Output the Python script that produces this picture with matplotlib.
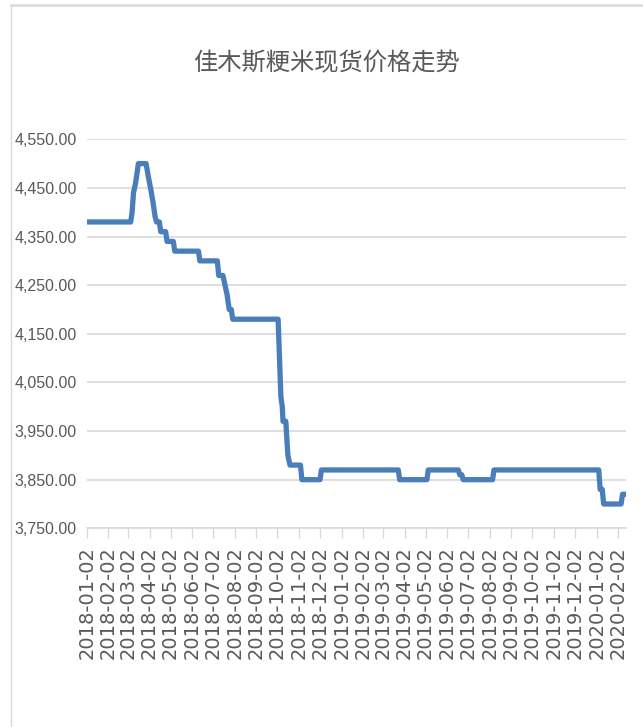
import matplotlib
matplotlib.use("Agg")
import matplotlib.pyplot as plt
from matplotlib.lines import Line2D
from matplotlib.ticker import FuncFormatter, FixedLocator
import pandas as pd

plt.rcParams['font.family'] = ['Noto Sans CJK SC', 'DejaVu Sans']

title = "佳木斯粳米现货价格走势"

dates = ["2018-01-02", "2018-03-06", "2018-03-08", "2018-03-10", "2018-03-13",
         "2018-03-17", "2018-03-28", "2018-03-31", "2018-04-04", "2018-04-07",
         "2018-04-10", "2018-04-12", "2018-04-16", "2018-04-18", "2018-04-25",
         "2018-04-27", "2018-05-06", "2018-05-08", "2018-06-11", "2018-06-13",
         "2018-07-08", "2018-07-10", "2018-07-16", "2018-07-19", "2018-07-22",
         "2018-07-25", "2018-07-28", "2018-07-30", "2018-10-03", "2018-10-07",
         "2018-10-09", "2018-10-10", "2018-10-14", "2018-10-17", "2018-10-20",
         "2018-11-04", "2018-11-06", "2018-12-02", "2018-12-04", "2019-03-24",
         "2019-03-26", "2019-05-04", "2019-05-06", "2019-06-18", "2019-06-20",
         "2019-06-23", "2019-06-25", "2019-08-06", "2019-08-08", "2020-01-05",
         "2020-01-07", "2020-01-10", "2020-01-12", "2020-02-06", "2020-02-08",
         "2020-02-13"]
prices = [4380, 4380, 4400, 4440, 4460,
          4500, 4500, 4475, 4445, 4420,
          4390, 4380, 4380, 4360, 4360,
          4340, 4340, 4320, 4320, 4300,
          4300, 4270, 4270, 4250, 4230,
          4200, 4200, 4180, 4180, 4020,
          4000, 3970, 3970, 3900, 3880,
          3880, 3850, 3850, 3870, 3870,
          3850, 3850, 3870, 3870, 3860,
          3860, 3850, 3850, 3870, 3870,
          3830, 3830, 3800, 3800, 3820,
          3820]

tick_dates = ["2018-01-02", "2018-02-02", "2018-03-02", "2018-04-02", "2018-05-02",
              "2018-06-02", "2018-07-02", "2018-08-02", "2018-09-02", "2018-10-02",
              "2018-11-02", "2018-12-02", "2019-01-02", "2019-02-02", "2019-03-02",
              "2019-04-02", "2019-05-02", "2019-06-02", "2019-07-02", "2019-08-02",
              "2019-09-02", "2019-10-02", "2019-11-02", "2019-12-02", "2020-01-02",
              "2020-02-02"]

y_ticks = [3750, 3850, 3950, 4050, 4150, 4250, 4350, 4450, 4550]

x = pd.to_datetime(dates)
ticks = pd.to_datetime(tick_dates)

W, H = 643, 727
fig = plt.figure(figsize=(W / 100, H / 100), dpi=100)
fig.patch.set_facecolor("white")

left, right = 86.7 / W, 626 / W
top, bottom = 1 - 139.3 / H, 1 - 528.3 / H
ax = fig.add_axes([left, bottom, right - left, top - bottom])

ax.plot(x, prices, color="#4a7ebb", lw=3.8, solid_joinstyle="round",
        solid_capstyle="butt", zorder=3)

ax.set_ylim(y_ticks[0], y_ticks[-1])
ax.set_xlim(x[0], x[-1])
ax.yaxis.set_major_locator(FixedLocator(y_ticks))
ax.yaxis.set_major_formatter(FuncFormatter(lambda v, p: f"{v:,.2f}"))
ax.grid(axis="y", color="#d9d9d9", lw=1.2, zorder=0)
ax.set_axisbelow(True)

ax.set_xticks(ticks)
ax.set_xticklabels(tick_dates, rotation=90, fontsize=14, color="#595959",
                   family=["DejaVu Sans"], va="top", ha="center")
ax.tick_params(axis="x", length=7, width=1, color="#d9d9d9", pad=6)
ax.tick_params(axis="y", length=0, pad=7)
for lab in ax.get_yticklabels():
    lab.set_family(["Liberation Sans"])
    lab.set_fontsize(11.5)
    lab.set_color("#595959")

for s in ["top", "right", "left"]:
    ax.spines[s].set_visible(False)
ax.spines["bottom"].set_color("#d9d9d9")
ax.spines["bottom"].set_linewidth(1.2)

fig.text(326 / W, 1 - 63 / H, title, ha="center", va="center",
         fontsize=17.5, color="#595959",
         family=["Noto Sans CJK SC", "DejaVu Sans"])

# chart frame (top and left edges visible)
fig.add_artist(Line2D([10.5 / W, 1.0], [1 - 5 / H, 1 - 5 / H],
                      transform=fig.transFigure, color="#d9d9d9", lw=1.8))
fig.add_artist(Line2D([10.5 / W, 10.5 / W], [0, 1 - 5 / H],
                      transform=fig.transFigure, color="#d9d9d9", lw=1.0))

fig.savefig("out.png", dpi=100, facecolor="white")
